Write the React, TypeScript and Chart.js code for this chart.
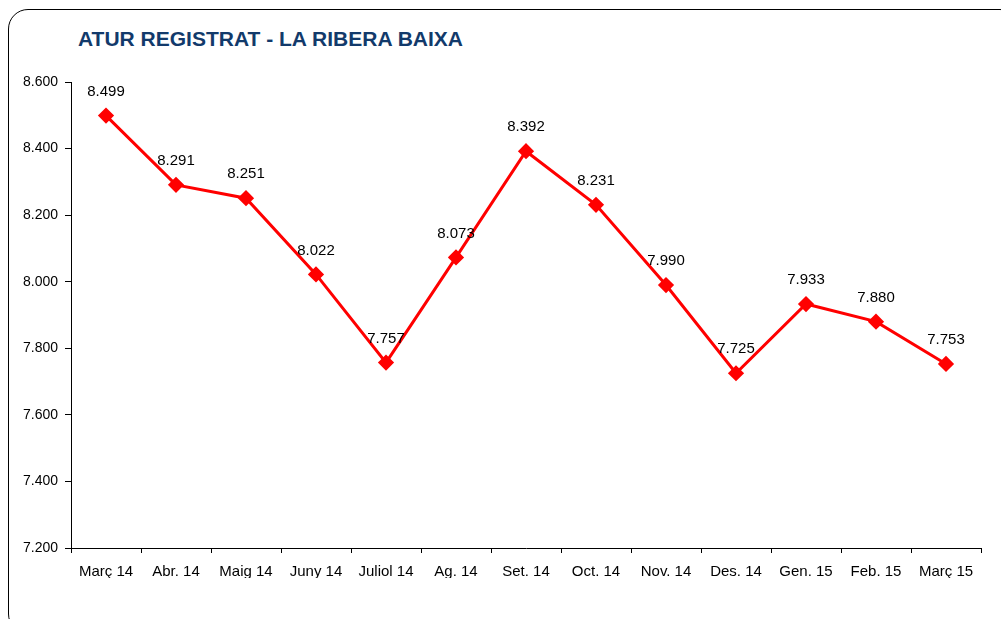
import React, { useEffect, useRef } from "react";
import { Chart, registerables } from "chart.js";

Chart.register(...registerables);

const categories = [
  "Març 14", "Abr. 14", "Maig 14", "Juny 14", "Juliol 14", "Ag. 14", "Set. 14",
  "Oct. 14", "Nov. 14", "Des. 14", "Gen. 15", "Feb. 15", "Març 15",
];
const values = [8499, 8291, 8251, 8022, 7757, 8073, 8392, 8231, 7990, 7725, 7933, 7880, 7753];
const yMin = 7200;
const yMax = 8600;
const yStep = 200;
const title = "ATUR REGISTRAT - LA RIBERA BAIXA";

const fmt = (v: number) => {
  const s = Math.round(v).toString();
  return s.replace(/\B(?=(\d{3})+(?!\d))/g, ".");
};

const FONT = "'Liberation Sans', Arial, sans-serif";

const labelPlugin = {
  id: "valueLabels",
  afterDatasetsDraw(chart: any) {
    const ctx = chart.ctx;
    const meta = chart.getDatasetMeta(0);
    ctx.save();
    ctx.font = `15px ${FONT}`;
    ctx.fillStyle = "#000";
    ctx.textAlign = "center";
    ctx.textBaseline = "middle";
    meta.data.forEach((pt: any, i: number) => {
      ctx.fillText(fmt(values[i]), pt.x, pt.y - 24);
    });
    ctx.restore();
  },
};

export default function App() {
  const ref = useRef<HTMLCanvasElement>(null);
  useEffect(() => {
    if (!ref.current) return;
    const chart = new Chart(ref.current, {
      type: "line",
      data: {
        labels: categories,
        datasets: [
          {
            data: values,
            borderColor: "#FF0000",
            backgroundColor: "#FF0000",
            borderWidth: 3,
            pointStyle: "rectRot",
            pointRadius: 6,
            pointHoverRadius: 6,
            pointBackgroundColor: "#FF0000",
            pointBorderColor: "#FF0000",
            tension: 0,
          },
        ],
      },
      options: {
        animation: false,
        responsive: false,
        maintainAspectRatio: false,
        layout: { padding: { top: 82, right: 20, bottom: 41, left: 10 } },
        plugins: {
          legend: { display: false },
          tooltip: { enabled: false },
          title: { display: false },
        },
        scales: {
          x: {
            offset: true,
            grid: {
              offset: true,
              display: true,
              drawOnChartArea: false,
              drawTicks: true,
              tickLength: 5,
              color: "#000",
            },
            border: { display: true, color: "#000", width: 1 },
            ticks: {
              color: "#000",
              font: { family: FONT, size: 15 },
              padding: 10,
              maxRotation: 0,
              autoSkip: false,
            },
            afterFit(scale: any) {
              scale.height = 30;
            },
          },
          y: {
            min: yMin,
            max: yMax,
            grid: {
              display: true,
              drawOnChartArea: false,
              drawTicks: true,
              tickLength: 6,
              color: "#000",
            },
            border: { display: true, color: "#000", width: 1 },
            ticks: {
              stepSize: yStep,
              color: "#000",
              font: { family: FONT, size: 14 },
              padding: 7,
              callback: (v: any) => fmt(Number(v)),
            },
            afterFit(scale: any) {
              scale.width = 61;
            },
          },
        },
      },
      plugins: [labelPlugin],
    } as any);
    return () => chart.destroy();
  }, []);

  return (
    <div
      style={{
        position: "fixed",
        left: 0,
        top: 0,
        width: 1001,
        height: 619,
        overflow: "hidden",
        background: "#fff",
      }}
    >
      <div
        style={{
          position: "absolute",
          left: 8,
          top: 9,
          width: 1012,
          height: 625,
          border: "1.5px solid #000",
          borderRadius: 20,
          boxSizing: "border-box",
        }}
      />
      <div
        style={{
          position: "absolute",
          left: 78,
          top: 27,
          fontFamily: FONT,
          fontWeight: "bold",
          fontSize: 21,
          color: "#123A6B",
          whiteSpace: "nowrap",
        }}
      >
        {title}
      </div>
      <canvas
        ref={ref}
        width={1001}
        height={619}
        style={{ position: "absolute", left: 0, top: 0, width: 1001, height: 619 }}
      />
    </div>
  );
}
